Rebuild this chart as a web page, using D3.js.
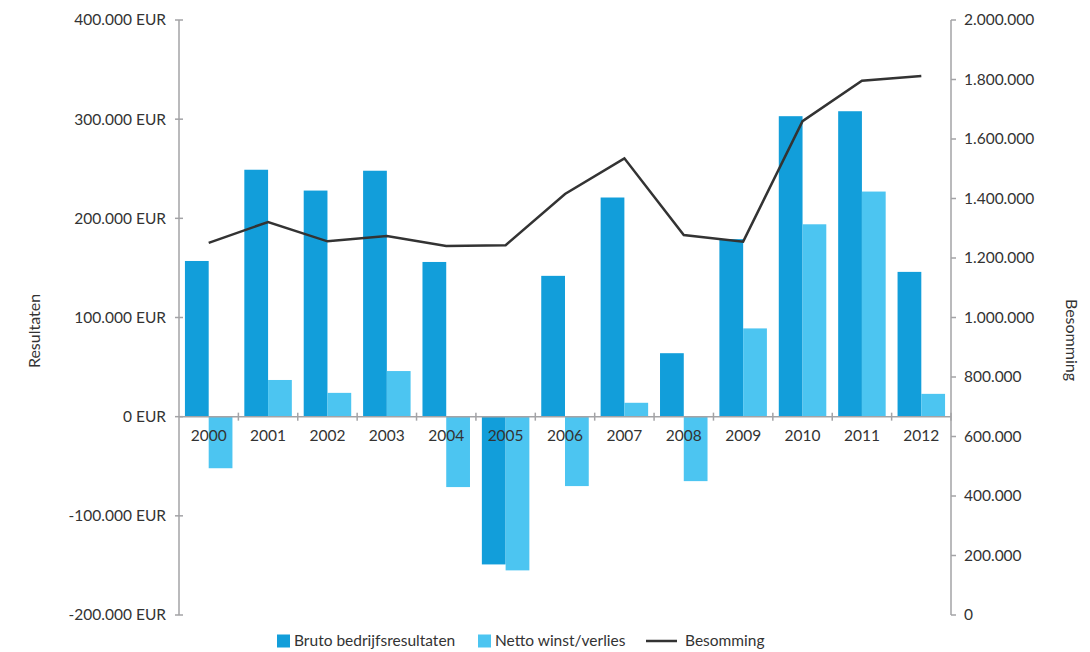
<!DOCTYPE html>
<html>
<head>
<meta charset="utf-8">
<script src="https://cdn.jsdelivr.net/npm/d3@7"></script>
<style>
  html, body { margin: 0; padding: 0; background: #fff; }
  svg { display: block; }
  text { font-family: "Lato", "Noto Sans", sans-serif; fill: #333; }
</style>
</head>
<body>
<svg id="chart" width="1090" height="652"></svg>
<script>
const years = ["2000","2001","2002","2003","2004","2005","2006","2007","2008","2009","2010","2011","2012"];
const bruto = [157000, 249000, 228000, 248000, 156000, -149000, 142000, 221000, 64000, 179000, 303000, 308000, 146000];
const netto = [-52000, 37000, 24000, 46000, -71000, -155000, -70000, 14000, -65000, 89000, 194000, 227000, 23000];
const besomming = [1251000, 1321000, 1256000, 1274000, 1240000, 1243000, 1415000, 1535000, 1277000, 1255000, 1660000, 1796000, 1812000];
const leftTicks = [-200000, -100000, 0, 100000, 200000, 300000, 400000];
const rightTicks = [0, 200000, 400000, 600000, 800000, 1000000, 1200000, 1400000, 1600000, 1800000, 2000000];
const seriesNames = ["Bruto bedrijfsresultaten", "Netto winst/verlies", "Besomming"];
const colors = { bruto: "#129eda", netto: "#4cc5f1", line: "#333333", axis: "#a3a3a6" };

const svg = d3.select("#chart");
const pL = 179, pR = 951, pT = 20, pB = 615;

const x = d3.scaleBand().domain(years).range([pL, pR]).paddingInner(0.2).paddingOuter(0.1);
const xSub = d3.scaleBand().domain(["bruto", "netto"]).range([0, x.bandwidth()]);
const yL = d3.scaleLinear().domain([-200000, 400000]).range([pB, pT]);
const yR = d3.scaleLinear().domain([0, 2000000]).range([pB, pT]);
const step = x.step();

const fmt = v => d3.format(",")(v).replace(/,/g, ".").replace("\u2212", "-");

// bars
const data = years.map((y, i) => ({ year: y, bruto: bruto[i], netto: netto[i] }));
const g = svg.append("g");
["bruto", "netto"].forEach(k => {
  g.selectAll("rect." + k).data(data).enter().append("rect")
    .attr("class", k)
    .attr("x", d => x(d.year) + xSub(k))
    .attr("width", xSub.bandwidth())
    .attr("y", d => yL(Math.max(0, d[k])))
    .attr("height", d => Math.abs(yL(d[k]) - yL(0)))
    .attr("fill", colors[k]);
});

// left axis
const axL = svg.append("g").attr("transform", `translate(${pL},0)`);
axL.append("line").attr("x1", 0).attr("x2", 0).attr("y1", pT).attr("y2", pB)
  .attr("stroke", colors.axis).attr("stroke-width", 1.5);
axL.selectAll("line.tick").data(leftTicks).enter().append("line")
  .attr("class", "tick")
  .attr("x1", -4).attr("x2", 4).attr("y1", d => yL(d)).attr("y2", d => yL(d))
  .attr("stroke", colors.axis).attr("stroke-width", 1.5);
axL.selectAll("text").data(leftTicks).enter().append("text")
  .attr("x", -13).attr("y", d => yL(d)).attr("dy", "0.35em")
  .attr("text-anchor", "end").style("font-size", "15.5px")
  .text(d => fmt(d) + " EUR");

// right axis
const axR = svg.append("g").attr("transform", `translate(${pR},0)`);
axR.append("line").attr("x1", 0).attr("x2", 0).attr("y1", pT).attr("y2", pB)
  .attr("stroke", colors.axis).attr("stroke-width", 1.5);
axR.selectAll("line.tick").data(rightTicks).enter().append("line")
  .attr("class", "tick")
  .attr("x1", 0).attr("x2", 5).attr("y1", d => yR(d)).attr("y2", d => yR(d))
  .attr("stroke", colors.axis).attr("stroke-width", 1.5);
axR.selectAll("text").data(rightTicks).enter().append("text")
  .attr("x", 13).attr("y", d => yR(d)).attr("dy", "0.35em")
  .attr("text-anchor", "start").style("font-size", "15.5px")
  .text(d => fmt(d));

// zero axis
const y0 = yL(0);
svg.append("line").attr("x1", pL).attr("x2", pR).attr("y1", y0).attr("y2", y0)
  .attr("stroke", colors.axis).attr("stroke-width", 1.5);
svg.selectAll("line.xtick").data(years).enter().append("line")
  .attr("class", "xtick")
  .attr("x1", (d, i) => pL + step * (i + 1)).attr("x2", (d, i) => pL + step * (i + 1))
  .attr("y1", y0 - 4).attr("y2", y0 + 4)
  .attr("stroke", colors.axis).attr("stroke-width", 1.5);
svg.selectAll("text.xl").data(years).enter().append("text")
  .attr("class", "xl")
  .attr("x", d => x(d) + x.bandwidth() / 2).attr("y", y0 + 24)
  .attr("text-anchor", "middle").style("font-size", "15.5px")
  .text(d => d);

// line
const line = d3.line().x((d, i) => x(years[i]) + x.bandwidth() / 2).y(d => yR(d));
svg.append("path").datum(besomming).attr("d", line)
  .attr("fill", "none").attr("stroke", colors.line).attr("stroke-width", 2.5)
  .attr("stroke-linejoin", "miter");

// axis titles
svg.append("text").attr("transform", `translate(40,331) rotate(-90)`)
  .attr("text-anchor", "middle").style("font-size", "16px").text("Resultaten");
svg.append("text").attr("transform", `translate(1066,340) rotate(90)`)
  .attr("text-anchor", "middle").style("font-size", "16px").text("Besomming");

// legend
const lg = svg.append("g");
const ly = 641;
lg.append("rect").attr("x", 277).attr("y", ly - 6.5).attr("width", 13).attr("height", 13).attr("fill", colors.bruto);
lg.append("text").attr("x", 294).attr("y", ly).attr("dy", "0.35em").style("font-size", "15.5px").text(seriesNames[0]);
lg.append("rect").attr("x", 478).attr("y", ly - 6.5).attr("width", 13).attr("height", 13).attr("fill", colors.netto);
lg.append("text").attr("x", 495).attr("y", ly).attr("dy", "0.35em").style("font-size", "15.5px").text(seriesNames[1]);
lg.append("line").attr("x1", 646).attr("x2", 677).attr("y1", ly).attr("y2", ly).attr("stroke", colors.line).attr("stroke-width", 2.5);
lg.append("text").attr("x", 685).attr("y", ly).attr("dy", "0.35em").style("font-size", "15.5px").text(seriesNames[2]);
</script>
</body>
</html>
